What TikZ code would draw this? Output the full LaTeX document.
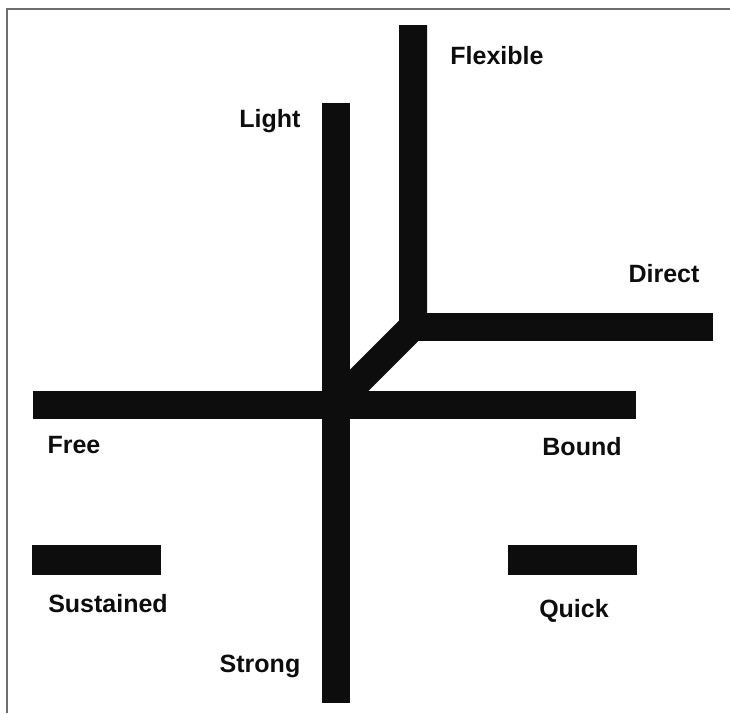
\documentclass[tikz,border=0pt]{standalone}
\usepackage{fontspec}
\setmainfont{Liberation Sans}
\usetikzlibrary{positioning}
\definecolor{effortink}{HTML}{0D0D0D}
\definecolor{framegray}{HTML}{6E6E6E}
\tikzset{
  bar/.style={draw=effortink, line width=28pt, line cap=butt, line join=miter},
  shortbar/.style={draw=effortink, line width=30pt, line cap=butt},
  lbl/.style={font=\fontsize{25}{29}\selectfont\bfseries, text=effortink, inner sep=0pt, anchor=base},
  frame/.style={draw=framegray, line width=2pt},
}

\begin{document}
\begin{tikzpicture}[x=1pt, y=-1pt]
    \useasboundingbox (0,0) rectangle (730,713);
    \draw[frame] (6.5,713) -- (6.5,8.5) -- (730,8.5);

    % end points of the bars
    \coordinate (lighttop) at (335.5,103);
    \coordinate (strongend) at (335.5,703);
    \coordinate (freeend) at (33,404.5);
    \coordinate (boundend) at (636,404.5);
    \coordinate (flextop) at (413,25);
    \coordinate (bend) at (413,326.5);
    \coordinate (hub) at (335.5,404);
    \coordinate (directstart) at (400,326.5);
    \coordinate (directend) at (713,326.5);
    \coordinate (susa) at (32,560);
    \coordinate (susb) at (161,560);
    \coordinate (quia) at (508,560);
    \coordinate (quib) at (637,560);

    \draw[bar] (lighttop) -- (strongend);
    \draw[bar] (freeend) -- (boundend);
    \draw[bar] (flextop) -- (bend) -- (hub);
    \draw[bar] (directstart) -- (directend);
    \draw[shortbar] (susa) -- (susb);
    \draw[shortbar] (quia) -- (quib);

    \node[lbl] (flexible) at (497,64) {Flexible};
    \node[lbl] (light) at (270,127) {Light};
    \node[lbl] (direct) at (664,282) {Direct};
    \node[lbl] (free) at (74,453) {Free};
    \node[lbl] (bound) at (582,455) {Bound};
    \node[lbl] (sustained) at (108,612) {Sustained};
    \node[lbl] (quick) at (574,617) {Quick};
    \node[lbl] (strong) at (260,672) {Strong};
\end{tikzpicture}
\end{document}
